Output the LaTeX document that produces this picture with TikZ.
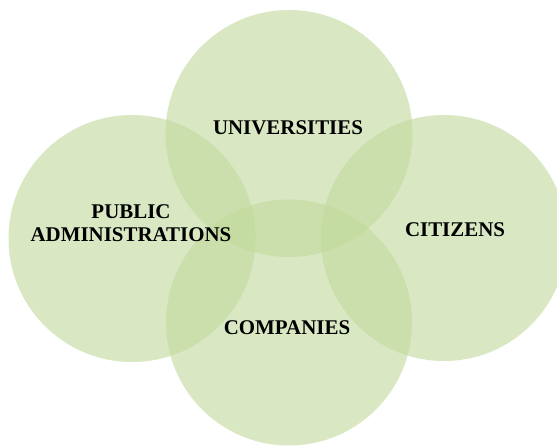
\documentclass[tikz,border=0pt]{standalone}
\usepackage{fontspec}
\setmainfont{Liberation Serif}
\begin{document}
\begin{tikzpicture}[x=1bp,y=1bp,
  blob/.style={circle, inner sep=0pt, fill={rgb,255:red,192;green,217;blue,155}, fill opacity=0.6, draw=none},
  lab/.style={font=\fontsize{21}{23}\selectfont\bfseries, align=center, inner sep=0pt, text=black}]
\useasboundingbox (0,0) rectangle (557,446);
\clip (0,0) rectangle (557,446);
\fill[white] (0,0) rectangle (557,446);
\node[blob, minimum size=247bp] (univ) at (289,312.5) {};
\node[blob, minimum size=247bp] (pub) at (132,207.5) {};
\node[blob, minimum size=246bp] (cit) at (444,208) {};
\node[blob, minimum size=246bp] (comp) at (289,123.5) {};
\node[lab] (tuniv) at (288,318) {UNIVERSITIES};
\node[lab] (tpub) at (131,223) {PUBLIC\\ADMINISTRATIONS};
\node[lab] (tcit) at (455,216.5) {CITIZENS};
\node[lab] (tcomp) at (287,118) {COMPANIES};
\end{tikzpicture}
\end{document}
